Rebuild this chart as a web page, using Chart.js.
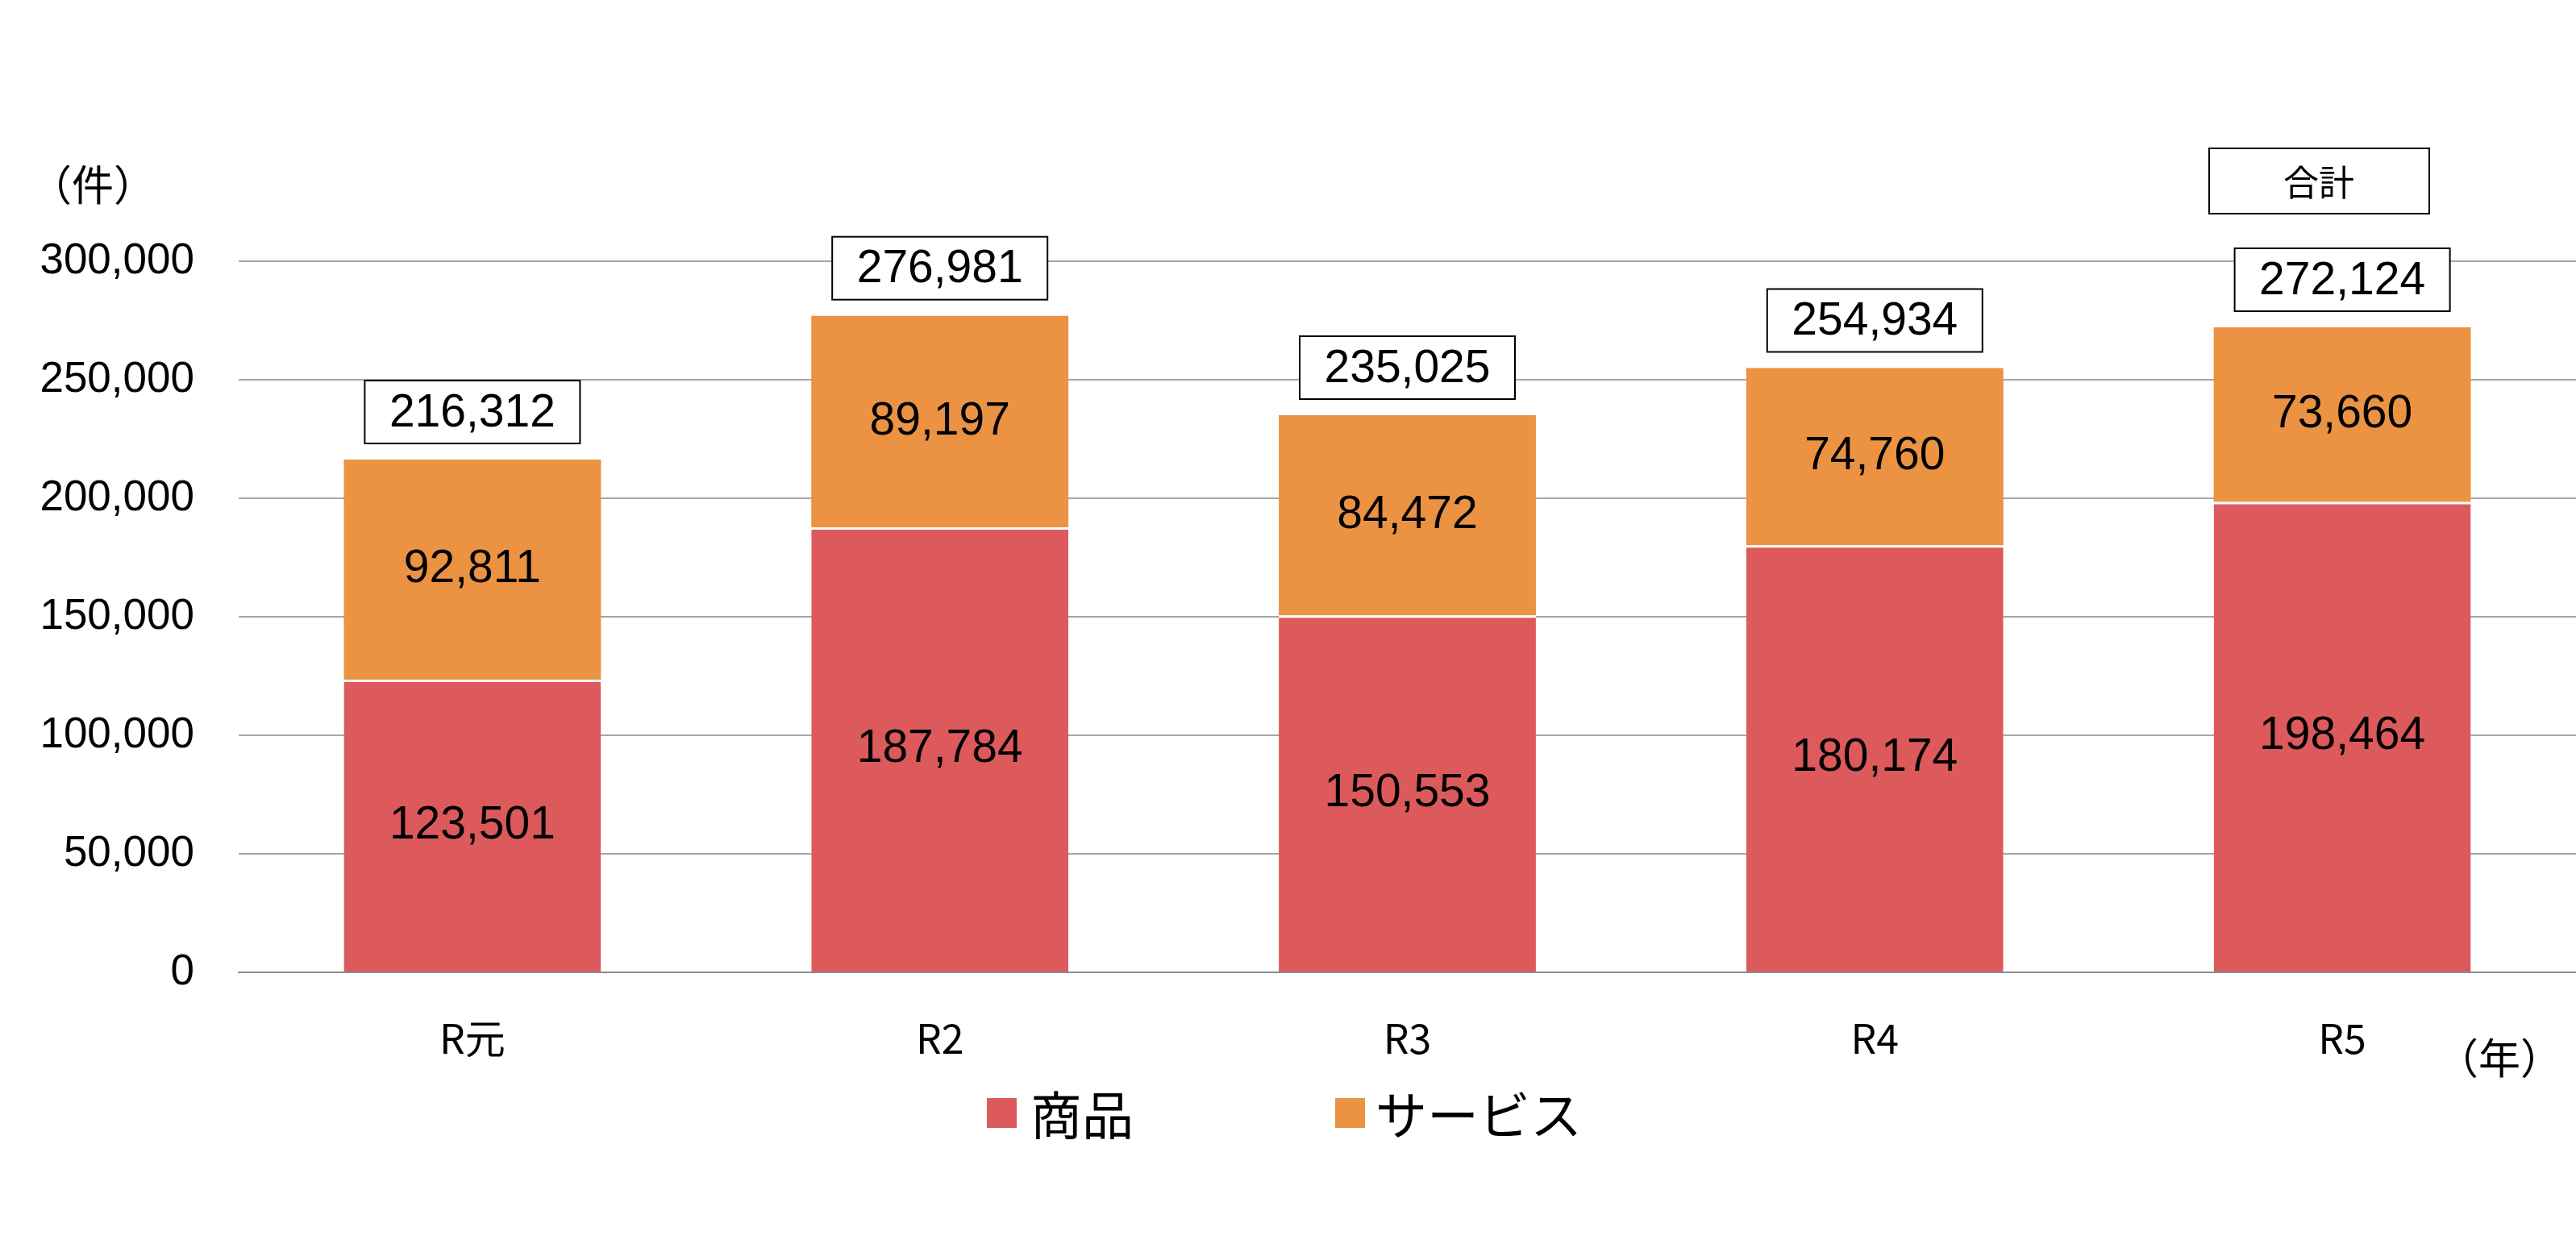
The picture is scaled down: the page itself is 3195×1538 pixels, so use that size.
<!DOCTYPE html>
<html>
<head>
<meta charset="utf-8">
<script src="https://cdn.jsdelivr.net/npm/chart.js@4"></script>
<style>
  html, body { margin: 0; padding: 0; background: #fff; }
  canvas { display: block; }
</style>
</head>
<body>
<canvas id="chart" width="3195" height="1538"></canvas>
<script>
/* ---------- Data ---------- */

const years = ['R元', 'R2', 'R3', 'R4', 'R5'];
const goods = [123501, 187784, 150553, 180174, 198464];
const services = [92811, 89197, 84472, 74760, 73660];
const totals = [216312, 276981, 235025, 254934, 272124];
const yTicks = [0, 50000, 100000, 150000, 200000, 250000, 300000];

const RED = '#dc5a5c';
const ORANGE = '#eb9343';
const LATIN = '"Liberation Sans", Arial, sans-serif';
const CJK = '"Noto Sans CJK JP", sans-serif';

const fmt = n => n.toLocaleString('en-US');

/* ---------- Labels, totals and legend ---------- */

const annotations = {
    id: 'annotations',
    afterDatasetsDraw(chart) {
        const ctx = chart.ctx;
        ctx.save();
        ctx.textAlign = 'center';
        ctx.textBaseline = 'middle';
        ctx.fillStyle = '#000';
        ctx.font = `57px ${LATIN}`;

        // segment values
        chart.data.datasets.forEach((ds, di) => {
            chart.getDatasetMeta(di).data.forEach((bar, i) => {
                const mid = (bar.y + bar.base) / 2;
                ctx.fillText(fmt(ds.data[i]), bar.x, mid);
            });
        });

        // totals in boxes
        const top = chart.getDatasetMeta(1).data;
        ctx.lineWidth = 2;
        ctx.strokeStyle = '#000';
        totals.forEach((t, i) => {
            const bar = top[i];
            const w = 267, h = 78;
            const y = bar.y - 20 - h;
            ctx.fillStyle = '#fff';
            ctx.fillRect(bar.x - w / 2, y, w, h);
            ctx.strokeRect(bar.x - w / 2, y, w, h);
            ctx.fillStyle = '#000';
            ctx.fillText(fmt(t), bar.x, y + h / 2 + 2);
        });

        // "合計" key box
        ctx.fillStyle = '#fff';
        ctx.fillRect(2740, 184, 273, 81);
        ctx.strokeRect(2740, 184, 273, 81);
        ctx.fillStyle = '#000';
        ctx.font = `44px ${CJK}`;
        ctx.fillText('合計', 2876, 226);

        // axis units
        ctx.font = `52px ${CJK}`;
        ctx.fillText('（件）', 115, 229);
        ctx.fillText('（年）', 3100, 1312);

        // legend
        ctx.textAlign = 'left';
        ctx.font = `64px ${CJK}`;
        ctx.fillStyle = RED;
        ctx.fillRect(1224, 1362, 37, 37);
        ctx.fillStyle = '#000';
        ctx.fillText('商品', 1278, 1383);
        ctx.fillStyle = ORANGE;
        ctx.fillRect(1656, 1362, 37, 37);
        ctx.fillStyle = '#000';
        ctx.fillText('サービス', 1706, 1383);
        ctx.restore();
    },
};

/* ---------- Chart ---------- */

new Chart(document.getElementById('chart'), {
    type: 'bar',
    data: {
        labels: years,
        datasets: [
            { label: '商品', data: goods, backgroundColor: RED, borderColor: '#fff', borderWidth: { top: 3 }, borderSkipped: false },
            { label: 'サービス', data: services, backgroundColor: ORANGE, borderWidth: 0 },
        ],
    },
    options: {
        responsive: false,
        animation: false,
        devicePixelRatio: 1,
        layout: { padding: { top: 324, right: 0, left: 0, bottom: 0 } },
        plugins: { legend: { display: false }, tooltip: { enabled: false } },
        datasets: { bar: { barPercentage: 0.55, categoryPercentage: 1 } },
        scales: {
            x: {
                stacked: true,
                grid: { display: false, drawTicks: false },
                border: { color: '#8c8c8c', width: 2 },
                ticks: { color: '#000', font: { family: CJK, size: 50 }, padding: 52 },
                afterFit(s) { s.height = 332; },
            },
            y: {
                stacked: true,
                min: 0,
                max: 300000,
                afterBuildTicks(s) { s.ticks = yTicks.map(v => ({ value: v })); },
                grid: { color: '#a6a6a6', lineWidth: 2, drawTicks: false },
                border: { display: false },
                ticks: { color: '#000', font: { family: LATIN, size: 53 }, padding: 55, callback: v => fmt(v) },
                afterFit(s) { s.width = 296; },
            },
        },
    },
    plugins: [annotations],
});
</script>
</body>
</html>
